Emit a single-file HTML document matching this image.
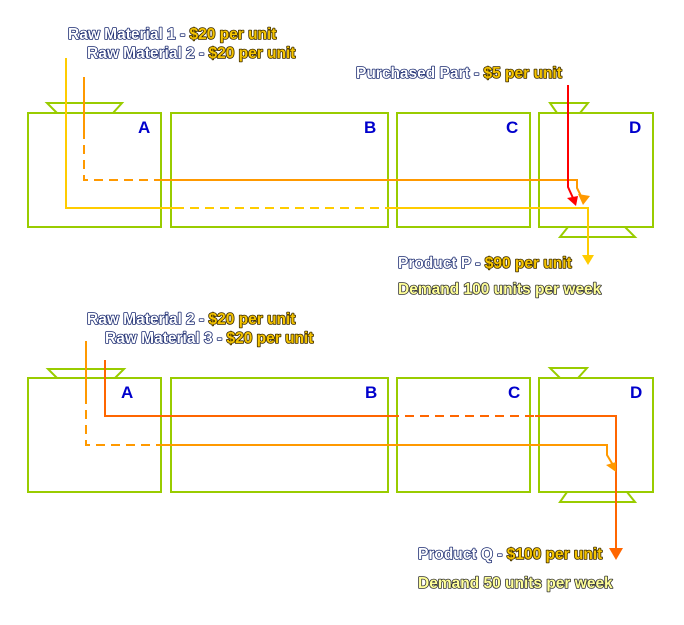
<!DOCTYPE html>
<html><head><style>
body{margin:0;background:#fff;}
svg{display:block}
text{font-family:"Liberation Sans",Arial,sans-serif;font-weight:bold;font-size:15.5px;}
.w{fill:#fff;stroke:#1a2a70;stroke-width:1.6px;paint-order:stroke;stroke-linejoin:round;}
.y{fill:#f5c400;stroke:#3a2a00;stroke-width:1.6px;paint-order:stroke;}
.d{fill:#ffff99;stroke:#333;stroke-width:1.6px;paint-order:stroke;stroke-linejoin:round;}
.L{fill:#0000cc;font-size:17px;}
.box{fill:none;stroke:#99cc00;stroke-width:2;}
</style></head><body>
<svg width="684" height="625" viewBox="0 0 684 625">
<!-- TOP -->
<rect class="box" x="28" y="113" width="133" height="114"/>
<rect class="box" x="171" y="113" width="217" height="114"/>
<rect class="box" x="397" y="113" width="133" height="114"/>
<rect class="box" x="539" y="113" width="114" height="114"/>
<polygon points="47,103 122,103 113,113 57,113" class="box"/>
<polygon points="550,103 588,103 580,113 557,113" class="box"/>
<polygon points="568,227 625,227 635,237 560,237" class="box"/>
<text x="138" y="133" class="L">A</text>
<text x="364" y="133" class="L">B</text>
<text x="506" y="133" class="L">C</text>
<text x="629" y="133" class="L">D</text>
<g fill="none" stroke-width="2">
<path d="M66,58 V208 H175" stroke="#ffcc00"/>
<path d="M175,208 H390" stroke="#ffcc00" stroke-dasharray="9,6"/>
<path d="M390,208 H588 V262" stroke="#ffcc00"/>
<path d="M84,77 V130" stroke="#ff9900"/>
<path d="M84,130 V180 H155" stroke="#ff9900" stroke-dasharray="9,6"/>
<path d="M155,180 H577 V188 L583,200" stroke="#ff9900"/>
<path d="M568,85 V187 L573,198" stroke="#ff0000"/>
</g>
<polygon points="588,265 582,255 594,255" fill="#ffcc00"/>
<polygon points="583,205 578,194 590,196" fill="#ff9900"/>
<polygon points="576,206 567,198 578,196" fill="#ff0000"/>
<text x="68" y="39" class="w">Raw Material 1 - <tspan class="y">$20 per unit</tspan></text>
<text x="87" y="58" class="w">Raw Material 2 - <tspan class="y">$20 per unit</tspan></text>
<text x="356" y="78" class="w">Purchased Part - <tspan class="y">$5 per unit</tspan></text>
<text x="398" y="268" class="w">Product P - <tspan class="y">$90 per unit</tspan></text>
<text x="398" y="294" class="d">Demand 100 units per week</text>
<!-- BOTTOM -->
<rect class="box" x="28" y="378" width="133" height="114"/>
<rect class="box" x="171" y="378" width="217" height="114"/>
<rect class="box" x="397" y="378" width="133" height="114"/>
<rect class="box" x="539" y="378" width="114" height="114"/>
<polygon points="48,369 124,369 115,378 57,378" class="box"/>
<polygon points="550,368 587,368 578,378 560,378" class="box"/>
<polygon points="567,492 627,492 635,502 560,502" class="box"/>
<text x="121" y="398" class="L">A</text>
<text x="365" y="398" class="L">B</text>
<text x="508" y="398" class="L">C</text>
<text x="630" y="398" class="L">D</text>
<g fill="none" stroke-width="2">
<path d="M86,341 V395" stroke="#ff9900"/>
<path d="M86,395 V445 H160" stroke="#ff9900" stroke-dasharray="9,6"/>
<path d="M160,445 H607 V455 L613,465" stroke="#ff9900"/>
<path d="M105,360 V416 H390" stroke="#ff6600"/>
<path d="M390,416 H535" stroke="#ff6600" stroke-dasharray="9,6"/>
<path d="M535,416 H616 V555" stroke="#ff6600"/>
</g>
<polygon points="616,472 606,465 616,462" fill="#ff9900"/>
<polygon points="616,560 609,548 623,548" fill="#ff6600"/>
<text x="87" y="324" class="w">Raw Material 2 - <tspan class="y">$20 per unit</tspan></text>
<text x="105" y="343" class="w">Raw Material 3 - <tspan class="y">$20 per unit</tspan></text>
<text x="418" y="559" class="w">Product Q - <tspan class="y">$100 per unit</tspan></text>
<text x="418" y="588" class="d">Demand 50 units per week</text>
</svg>
</body></html>
